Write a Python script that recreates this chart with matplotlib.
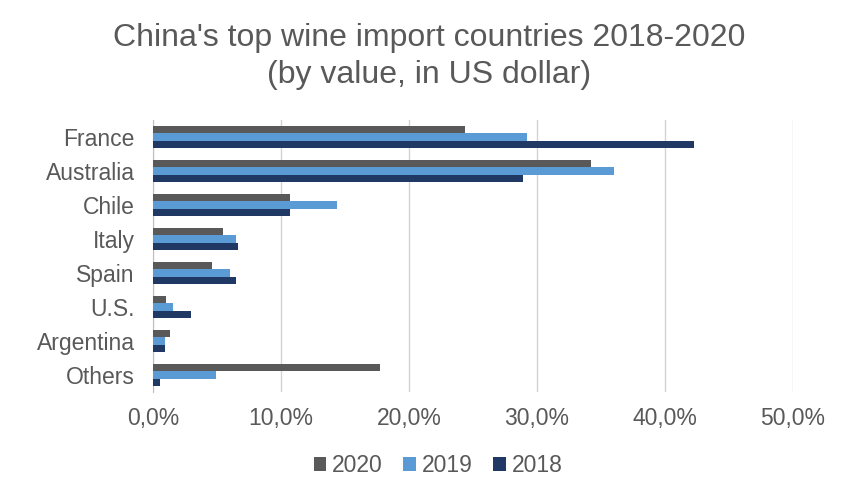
import matplotlib
matplotlib.use("Agg")
import matplotlib.pyplot as plt
import numpy as np
from matplotlib.ticker import FuncFormatter

countries = ["France", "Australia", "Chile", "Italy", "Spain", "U.S.", "Argentina", "Others"]
share_2020 = [24.4, 34.2, 10.7, 5.45, 4.6, 1.0, 1.3, 17.7]
share_2019 = [29.2, 36.0, 14.35, 6.45, 6.0, 1.57, 0.95, 4.9]
share_2018 = [42.3, 28.9, 10.7, 6.65, 6.45, 2.93, 0.95, 0.55]
years = ["2020", "2019", "2018"]
colors = ["#595959", "#5b9bd5", "#1f3864"]

plt.rcParams['font.family'] = ['Liberation Sans', 'DejaVu Sans']
text_color = "#595959"

fig = plt.figure(figsize=(8.59, 4.92), dpi=100)
ax = fig.add_axes([153/859, 1 - 392/492, (793-153)/859, (392-120)/492])

y = np.arange(len(countries))
h = 0.21
for k, (vals, lab, c) in enumerate(zip([share_2020, share_2019, share_2018], years, colors)):
    ax.barh(y + (k - 1) * h, vals, height=h, color=c, label=lab, zorder=3)

ax.set_ylim(len(countries) - 0.5, -0.5)
ax.set_xlim(0, 50)
ax.set_xticks(np.arange(0, 51, 10))
ax.xaxis.set_major_formatter(FuncFormatter(lambda v, p: f"{v:.1f}%".replace(".", ",")))
ax.set_yticks(y)
ax.set_yticklabels(countries)
ax.grid(axis="x", color="#cfd3db", linewidth=1, zorder=0)
for s in ["top", "right", "bottom"]:
    ax.spines[s].set_visible(False)
ax.spines["left"].set_color("#bfbfbf")
ax.tick_params(axis="both", length=0, labelsize=16.5, colors=text_color)
ax.tick_params(axis="y", pad=13)
ax.tick_params(axis="x", pad=11)

fig.text(0.5, 1 - 38/492, "China's top wine import countries 2018-2020",
         fontsize=23, color=text_color, ha="center", va="center")
fig.text(0.5, 1 - 75/492, "(by value, in US dollar)",
         fontsize=23, color=text_color, ha="center", va="center")

leg = fig.legend(loc="center", bbox_to_anchor=(438/859, 1 - 466/492), ncol=3, frameon=False,
                 fontsize=16.5, handlelength=0.55, handleheight=0.55, handletextpad=0.25,
                 columnspacing=0.9)
for t in leg.get_texts():
    t.set_color(text_color)

fig.savefig("out.png", dpi=100, facecolor="white")
